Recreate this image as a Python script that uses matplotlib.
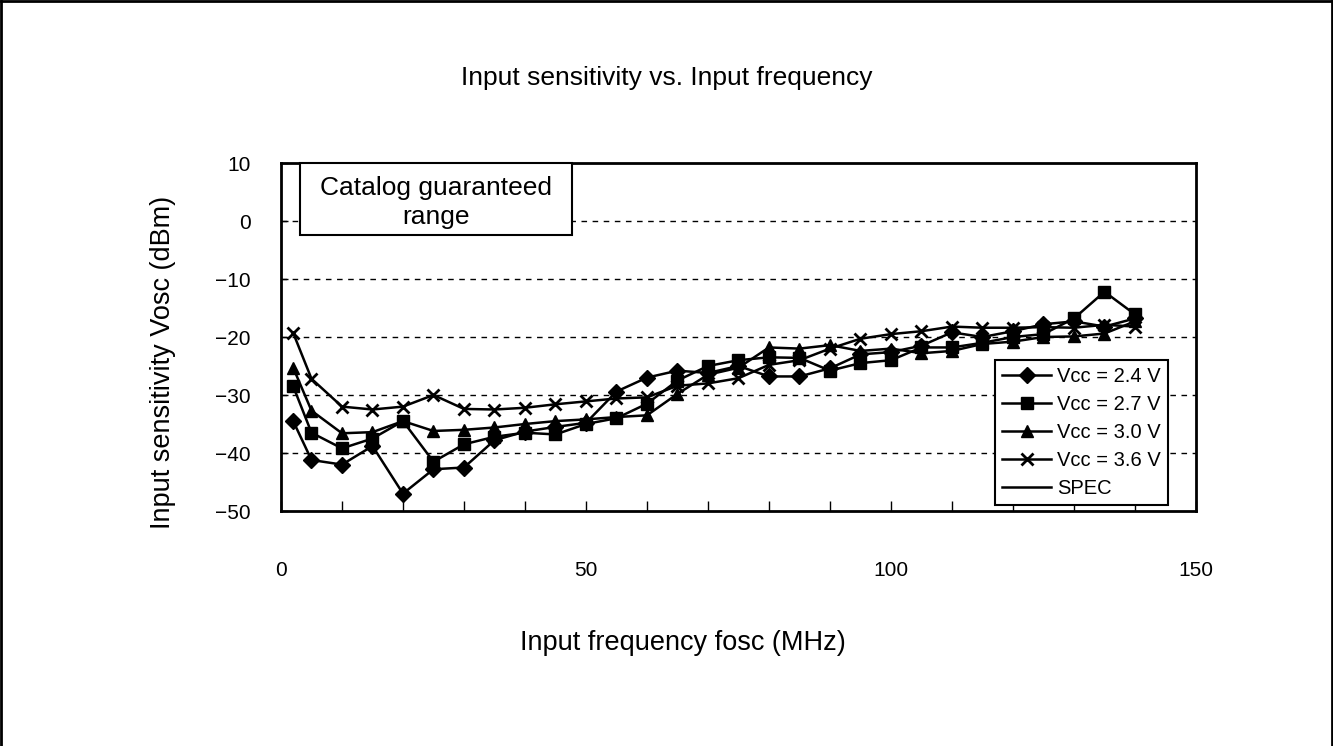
import numpy as np
import matplotlib.pyplot as plt
from matplotlib.patches import Rectangle
from matplotlib.lines import Line2D
from matplotlib.ticker import MultipleLocator, FuncFormatter

plt.rcParams['font.family'] = ['Liberation Sans', 'DejaVu Sans']

freq = [2, 5, 10, 15, 20, 25, 30, 35, 40, 45, 50, 55, 60, 65, 70, 75, 80, 85, 90,
        95, 100, 105, 110, 115, 120, 125, 130, 135, 140]
v24 = [-34.5, -41.2, -42.0, -38.8, -47.0, -42.8, -42.5, -37.8, -36.3, -35.5, -34.8,
       -29.4, -27.0, -25.8, -26.2, -25.0, -26.8, -26.8, -25.4, -23.0, -22.6, -21.5,
       -19.2, -20.0, -19.0, -17.8, -17.3, -18.2, -16.8]
v27 = [-28.5, -36.5, -39.2, -37.5, -34.5, -41.5, -38.5, -37.2, -36.5, -36.8, -35.0,
       -34.0, -31.5, -27.5, -25.0, -24.0, -23.5, -23.6, -25.8, -24.5, -24.0, -21.8,
       -21.8, -21.0, -20.0, -19.5, -16.8, -12.2, -16.1]
v30 = [-25.3, -32.7, -36.6, -36.4, -34.5, -36.2, -36.0, -35.6, -35.0, -34.5, -34.2,
       -33.8, -33.5, -29.8, -26.5, -25.3, -21.8, -22.0, -21.4, -22.4, -22.0, -22.8,
       -22.4, -21.2, -20.8, -20.0, -19.9, -19.4, -17.3]
v36 = [-19.3, -27.2, -32.0, -32.5, -32.0, -30.0, -32.4, -32.5, -32.2, -31.6, -31.1,
       -30.6, -30.4, -28.4, -28.0, -27.1, -24.8, -24.0, -22.0, -20.3, -19.5, -19.0,
       -18.2, -18.4, -18.4, -18.3, -18.4, -17.9, -18.2]

fig = plt.figure(figsize=(13.33, 7.46), dpi=100)
ax = fig.add_axes([0.2108, 0.315, 0.6864, 0.4665])

ax.plot(freq, v24, 'k-', marker='D', ms=8, lw=1.8, label='Vcc = 2.4 V', zorder=3)
ax.plot(freq, v27, 'k-', marker='s', ms=8, lw=1.8, label='Vcc = 2.7 V', zorder=3)
ax.plot(freq, v30, 'k-', marker='^', ms=9, lw=1.8, label='Vcc = 3.0 V', zorder=3)
ax.plot(freq, v36, 'k-', marker='x', ms=9, mew=2, lw=1.8, label='Vcc = 3.6 V', zorder=3)
ax.plot([], [], 'k-', lw=1.8, label='SPEC')

ax.set_xlim(0, 150)
ax.set_ylim(-50, 10)
ax.xaxis.set_major_locator(MultipleLocator(10))
ax.xaxis.set_major_formatter(FuncFormatter(lambda v, p: '%d' % v if v % 50 == 0 else ''))
ax.yaxis.set_major_locator(MultipleLocator(10))
ax.yaxis.set_major_formatter(FuncFormatter(lambda v, p: ('%d' % v).replace('-', '\u2212')))
ax.tick_params(axis='x', direction='in', length=7, width=1, labelsize=15, pad=36)
ax.tick_params(axis='y', direction='in', length=5, width=1, labelsize=15, pad=22)
for s in ax.spines.values():
    s.set_linewidth(2)

for g in [-40, -30, -20, -10, 0]:
    ax.axhline(g, color='k', lw=1, ls=(0, (4, 4)), zorder=1)

ax.add_patch(Rectangle((3.1, -2.4), 44.6, 12.4, facecolor='white', edgecolor='k',
                       lw=1.5, zorder=4, clip_on=False))
ax.text(25.4, 3.2, 'Catalog guaranteed\nrange', ha='center', va='center',
        fontsize=19, linespacing=1.3, zorder=5)

leg = ax.legend(loc='lower right', bbox_to_anchor=(0.969, 0.017), borderaxespad=0,
                fontsize=14.5, handlelength=2.4, handletextpad=0.3, labelspacing=0.45,
                borderpad=0.35, fancybox=False, framealpha=1, edgecolor='k')
leg.get_frame().set_linewidth(1.5)

fig.text(0.5, 0.895, 'Input sensitivity vs. Input frequency', ha='center', va='center',
         fontsize=19)
ax.set_xlabel('Input frequency fosc (MHz)', fontsize=19.5, va='center')
ax.xaxis.set_label_coords(0.439, -0.379)
ax.set_ylabel('Input sensitivity Vosc (dBm)', fontsize=19.5, va='center')
ax.yaxis.set_label_coords(-0.129, 0.428)

fig.add_artist(Line2D([0.001, 0.001], [0, 0.999], color='k', lw=2, transform=fig.transFigure))
fig.add_artist(Line2D([0.001, 0.999], [0.999, 0.999], color='k', lw=2, transform=fig.transFigure))
fig.add_artist(Line2D([0.999, 0.999], [0, 0.999], color='k', lw=2, transform=fig.transFigure))

fig.savefig('out.png', dpi=100)
